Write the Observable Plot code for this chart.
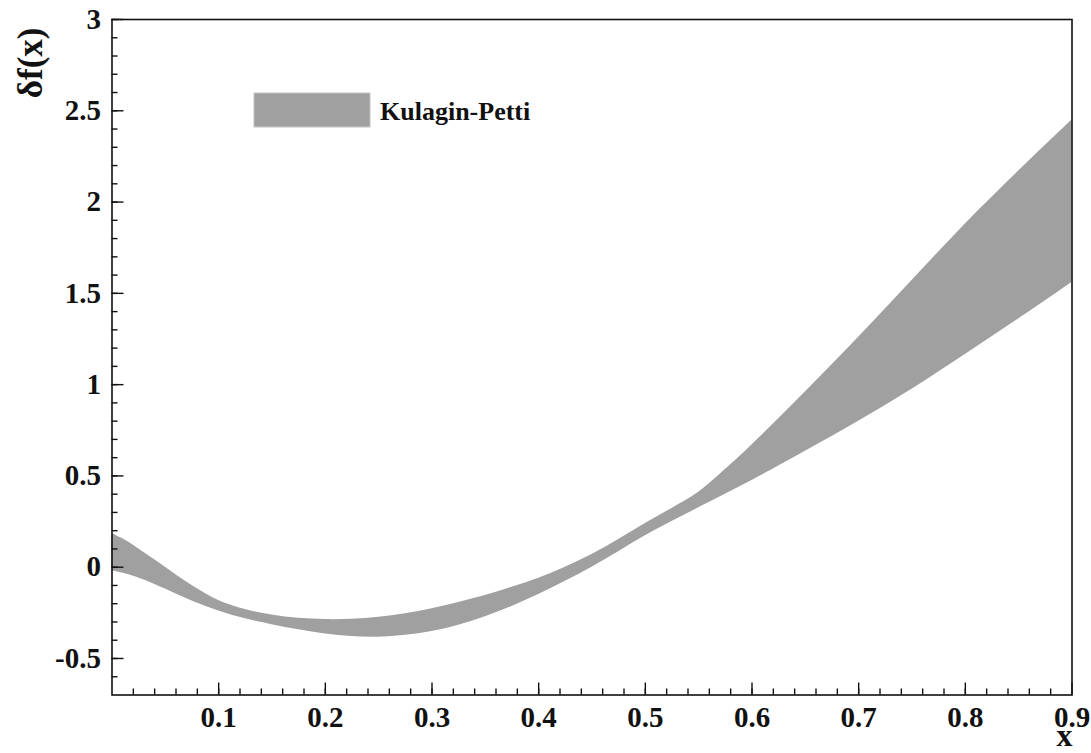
<!DOCTYPE html>
<html>
<head>
<meta charset="utf-8">
<script src="https://cdn.jsdelivr.net/npm/d3@7"></script>
<script src="https://cdn.jsdelivr.net/npm/@observablehq/plot@0.6"></script>
<style>
  html, body { margin: 0; padding: 0; background: #ffffff; }
  #chart { width: 1091px; height: 753px; }
</style>
</head>
<body>
<div id="chart"></div>
<script>
// Kulagin-Petti uncertainty band for δf(x)
const xValues = [0, 0.015, 0.03, 0.05, 0.075, 0.1, 0.125, 0.15, 0.175, 0.2, 0.225, 0.25, 0.275, 0.3, 0.325, 0.35, 0.375, 0.4, 0.425, 0.45, 0.475, 0.5, 0.525, 0.55, 0.575, 0.6, 0.65, 0.7, 0.75, 0.8, 0.85, 0.9];
const upperEdge = [0.185, 0.14, 0.08, 0.0, -0.1, -0.182, -0.232, -0.262, -0.28, -0.287, -0.285, -0.274, -0.255, -0.227, -0.193, -0.155, -0.11, -0.06, 0.0, 0.07, 0.152, 0.24, 0.322, 0.41, 0.535, 0.67, 0.96, 1.26, 1.57, 1.88, 2.17, 2.45];
const lowerEdge = [-0.019, -0.04, -0.07, -0.12, -0.185, -0.24, -0.283, -0.315, -0.343, -0.366, -0.38, -0.383, -0.373, -0.352, -0.318, -0.272, -0.215, -0.15, -0.077, 0.0, 0.085, 0.172, 0.25, 0.325, 0.4, 0.475, 0.635, 0.8, 0.975, 1.165, 1.36, 1.56];

const seriesName = "Kulagin-Petti";

const xTickValues = [0.1, 0.2, 0.3, 0.4, 0.5, 0.6, 0.7, 0.8, 0.9];
const xTickLabels = ["0.1", "0.2", "0.3", "0.4", "0.5", "0.6", "0.7", "0.8", "0.9"];
const yTickValues = [-0.5, 0, 0.5, 1, 1.5, 2, 2.5, 3];
const yTickLabels = ["-0.5", "0", "0.5", "1", "1.5", "2", "2.5", "3"];
const xMinorTicks = d3.range(0.02, 0.9, 0.02).map(v => +v.toFixed(2));
const yMinorTicks = d3.range(-0.6, 3.0001, 0.1).map(v => +v.toFixed(1));

const xTitle = "x";
const yTitle = "δf(x)";

const band = xValues.map((x, i) => ({x, lo: lowerEdge[i], hi: upperEdge[i]}));

const serif = '"Liberation Serif", "Times New Roman", Times, serif';

const chart = Plot.plot({
  width: 1091,
  height: 753,
  marginLeft: 111.5,
  marginRight: 19.5,
  marginTop: 19,
  marginBottom: 58.5,
  x: {domain: [0, 0.9]},
  y: {domain: [-0.7, 3]},
  style: {fontFamily: serif, fontWeight: "bold", background: "#ffffff", color: "#111"},
  marks: [
    Plot.areaY(band, {x: "x", y1: "lo", y2: "hi", fill: "#a0a0a0", curve: "catmull-rom"}),
    // inward minor and major ticks
    Plot.axisY(yMinorTicks, {tickSize: -6, tickFormat: () => "", label: null, strokeWidth: 1.4}),
    Plot.axisY(yTickValues, {tickSize: -12, tickFormat: () => "", label: null, strokeWidth: 1.4}),
    Plot.axisX(xMinorTicks, {tickSize: -6, tickFormat: () => "", label: null, strokeWidth: 1.4}),
    Plot.axisX(xTickValues, {tickSize: -12, tickFormat: () => "", label: null, strokeWidth: 1.4}),
    // tick labels
    Plot.axisY(yTickValues, {tickSize: 0, tickPadding: 11, fontSize: 29, label: null,
      tickFormat: d => yTickLabels[yTickValues.indexOf(d)]}),
    Plot.axisX(xTickValues, {tickSize: 0, tickPadding: 11, fontSize: 29, label: null,
      tickFormat: d => xTickLabels[xTickValues.indexOf(d)]}),
    Plot.frame({stroke: "#111", strokeWidth: 1.6}),
    // axis titles
    Plot.text([yTitle], {text: d => d, frameAnchor: "top-left", dx: -81, dy: 8, rotate: -90,
      textAnchor: "end", lineAnchor: "middle", fontSize: 35, fontWeight: "bold"}),
    Plot.text([xTitle], {text: d => d, frameAnchor: "bottom-right", dx: 0.5, dy: 50.5,
      textAnchor: "end", lineAnchor: "bottom", fontSize: 32, fontWeight: "bold"})
  ]
});

document.getElementById("chart").appendChild(chart);

// legend box
const svg = d3.select(chart);
const legend = svg.append("g").attr("class", "legend");
legend.append("rect")
  .attr("x", 254).attr("y", 93).attr("width", 116).attr("height", 34)
  .attr("fill", "#a0a0a0").attr("stroke", "#c4c4c4").attr("stroke-width", 1);
legend.append("text")
  .attr("x", 380).attr("y", 120)
  .attr("text-anchor", "start")
  .attr("font-family", serif).attr("font-weight", "bold").attr("font-size", 26)
  .attr("fill", "#111")
  .text(seriesName);
</script>
</body>
</html>
